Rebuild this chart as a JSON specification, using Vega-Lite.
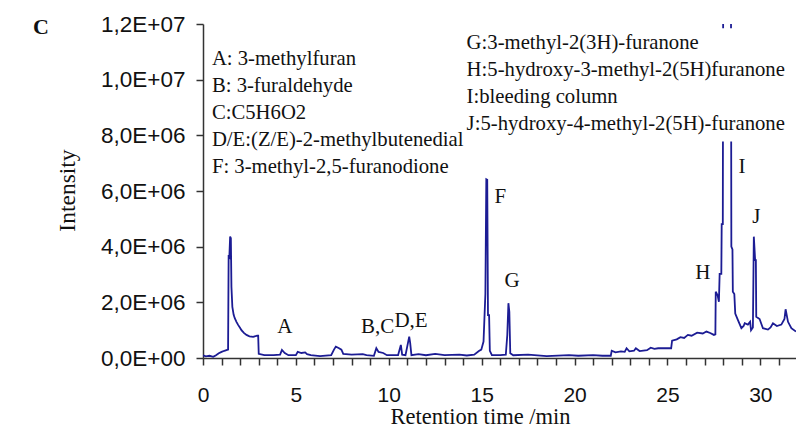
{
  "$schema": "https://vega.github.io/schema/vega-lite/v6.json",
  "width": 593,
  "height": 334,
  "autosize": {"type": "none"},
  "padding": {"left": 203, "top": 24, "right": 0, "bottom": 77},
  "background": "white",
  "config": {"view": {"stroke": null}},
  "title": {"text": "C", "anchor": "start", "frame": "group", "dx": -170, "dy": 26, "font": "Liberation Serif", "fontSize": 22, "fontWeight": "bold", "color": "#111", "offset": 0},
  "datasets": {
    "trace": [
      {"t":0.0,"v":100000},{"t":0.15,"v":60000},{"t":0.35,"v":80000},{"t":0.55,"v":40000},{"t":0.7,"v":100000},
      {"t":0.85,"v":170000},{"t":1.0,"v":220000},{"t":1.15,"v":260000},{"t":1.3,"v":290000},{"t":1.35,"v":300000},
      {"t":1.38,"v":3700000},{"t":1.42,"v":3650000},{"t":1.46,"v":4360000},{"t":1.5,"v":4300000},{"t":1.53,"v":2560000},
      {"t":1.58,"v":1840000},{"t":1.65,"v":1550000},{"t":1.71,"v":1430000},{"t":1.8,"v":1300000},{"t":1.89,"v":1190000},
      {"t":2.0,"v":1080000},{"t":2.07,"v":1000000},{"t":2.2,"v":900000},{"t":2.34,"v":830000},{"t":2.5,"v":780000},
      {"t":2.7,"v":760000},{"t":2.91,"v":800000},{"t":2.97,"v":800000},{"t":3.0,"v":150000},{"t":3.3,"v":100000},
      {"t":3.8,"v":100000},{"t":4.15,"v":120000},{"t":4.25,"v":290000},{"t":4.4,"v":180000},{"t":4.6,"v":100000},
      {"t":5.0,"v":100000},{"t":5.1,"v":220000},{"t":5.3,"v":180000},{"t":5.5,"v":200000},{"t":5.6,"v":140000},
      {"t":5.8,"v":100000},{"t":6.3,"v":70000},{"t":6.9,"v":100000},{"t":7.05,"v":300000},{"t":7.15,"v":410000},
      {"t":7.3,"v":360000},{"t":7.45,"v":300000},{"t":7.55,"v":150000},{"t":8.0,"v":120000},{"t":8.6,"v":140000},
      {"t":8.8,"v":100000},{"t":9.2,"v":80000},{"t":9.33,"v":350000},{"t":9.45,"v":220000},{"t":9.7,"v":180000},
      {"t":9.9,"v":100000},{"t":10.5,"v":100000},{"t":10.65,"v":470000},{"t":10.72,"v":120000},{"t":10.9,"v":100000},
      {"t":11.1,"v":770000},{"t":11.15,"v":550000},{"t":11.22,"v":100000},{"t":11.6,"v":140000},{"t":12.0,"v":100000},
      {"t":12.5,"v":150000},{"t":13.0,"v":100000},{"t":13.8,"v":120000},{"t":14.2,"v":90000},{"t":14.6,"v":120000},
      {"t":14.85,"v":250000},{"t":14.98,"v":300000},{"t":15.1,"v":590000},{"t":15.2,"v":2300000},{"t":15.25,"v":6420000},
      {"t":15.3,"v":6400000},{"t":15.34,"v":1540000},{"t":15.4,"v":1540000},{"t":15.44,"v":260000},{"t":15.55,"v":100000},
      {"t":16.0,"v":100000},{"t":16.3,"v":120000},{"t":16.38,"v":830000},{"t":16.44,"v":1970000},{"t":16.49,"v":1660000},
      {"t":16.54,"v":170000},{"t":16.7,"v":100000},{"t":17.5,"v":120000},{"t":18.5,"v":70000},{"t":19.7,"v":100000},
      {"t":20.2,"v":80000},{"t":21.0,"v":100000},{"t":21.5,"v":80000},{"t":21.95,"v":80000},{"t":22.0,"v":260000},
      {"t":22.2,"v":200000},{"t":22.5,"v":240000},{"t":22.7,"v":220000},{"t":22.8,"v":350000},{"t":22.95,"v":240000},
      {"t":23.2,"v":260000},{"t":23.3,"v":350000},{"t":23.5,"v":250000},{"t":23.9,"v":280000},{"t":24.1,"v":370000},
      {"t":24.3,"v":330000},{"t":24.5,"v":350000},{"t":25.2,"v":350000},{"t":25.25,"v":620000},{"t":25.5,"v":670000},
      {"t":25.7,"v":750000},{"t":25.9,"v":720000},{"t":26.1,"v":830000},{"t":26.3,"v":800000},{"t":26.6,"v":910000},
      {"t":26.9,"v":880000},{"t":27.1,"v":950000},{"t":27.3,"v":900000},{"t":27.5,"v":830000},{"t":27.58,"v":850000},
      {"t":27.6,"v":2380000},{"t":27.7,"v":2250000},{"t":27.77,"v":2020000},{"t":27.81,"v":3020000},{"t":27.9,"v":3020000},
      {"t":27.92,"v":4810000},{"t":27.98,"v":4810000},{"t":28.0,"v":13000000},{"t":28.2,"v":15000000},{"t":28.42,"v":13000000},
      {"t":28.44,"v":4000000},{"t":28.5,"v":3900000},{"t":28.52,"v":2380000},{"t":28.6,"v":2300000},{"t":28.65,"v":1600000},
      {"t":28.79,"v":1370000},{"t":28.98,"v":1070000},{"t":29.1,"v":1150000},{"t":29.16,"v":1250000},{"t":29.33,"v":1200000},
      {"t":29.45,"v":1300000},{"t":29.5,"v":1000000},{"t":29.6,"v":1100000},{"t":29.65,"v":4360000},{"t":29.72,"v":3520000},
      {"t":29.76,"v":3520000},{"t":29.78,"v":1480000},{"t":29.96,"v":1400000},{"t":30.14,"v":1070000},{"t":30.41,"v":1020000},
      {"t":30.55,"v":1100000},{"t":30.68,"v":1250000},{"t":30.89,"v":1150000},{"t":31.13,"v":1200000},{"t":31.3,"v":1400000},
      {"t":31.36,"v":1750000},{"t":31.49,"v":1300000},{"t":31.67,"v":1070000},{"t":31.92,"v":950000}
    ],
    "legend": [
      {"text":"A: 3-methylfuran","t":0.48,"v":10527000},
      {"text":"B: 3-furaldehyde","t":0.48,"v":9557000},
      {"text":"C:C5H6O2","t":0.48,"v":8587000},
      {"text":"D/E:(Z/E)-2-methylbutenedial","t":0.48,"v":7617000},
      {"text":"F: 3-methyl-2,5-furanodione","t":0.48,"v":6647000},
      {"text":"G:3-methyl-2(3H)-furanone","t":14.19,"v":11100000},
      {"text":"H:5-hydroxy-3-methyl-2(5H)furanone","t":14.19,"v":10130000},
      {"text":"I:bleeding column","t":14.19,"v":9160000},
      {"text":"J:5-hydroxy-4-methyl-2(5H)-furanone","t":14.19,"v":8190000}
    ],
    "peaks": [
      {"text":"A","t":4.4,"v":898000},
      {"text":"B,C","t":9.4,"v":898000},
      {"text":"D,E","t":11.2,"v":1114000},
      {"text":"F","t":16.01,"v":5560000},
      {"text":"G","t":16.64,"v":2540000},
      {"text":"H","t":26.91,"v":2830000},
      {"text":"I","t":29.02,"v":6660000},
      {"text":"J","t":29.78,"v":4860000}
    ],
    "mask": [{"t":14.1,"t2":31.92,"v":7780000,"v2":11850000}]
  },
  "layer": [
    {
      "data": {"name": "trace"},
      "mark": {"type": "line", "color": "#1c1c94", "strokeWidth": 1.8, "clip": true},
      "encoding": {
        "x": {"field": "t", "type": "quantitative",
          "scale": {"domain": [0, 31.92], "nice": false, "zero": false},
          "axis": {"title": "Retention time /min", "values": [0,1,2,3,4,5,6,7,8,9,10,11,12,13,14,15,16,17,18,19,20,21,22,23,24,25,26,27,28,29,30,31],
            "tickCount": 40,
            "labelExpr": "datum.value % 5 == 0 ? format(datum.value, 'd') : ''",
            "grid": false, "domainColor": "#333", "domainWidth": 1.5, "tickColor": "#333", "tickWidth": 1.5, "tickSize": 7,
            "labelFont": "Liberation Sans", "labelFontSize": 21, "labelColor": "#111", "labelBaseline": "alphabetic", "labelPadding": 36,
            "labelFlush": false, "labelOverlap": false, "labelSeparation": 0, "labelBound": false,
            "titleFont": "Liberation Serif", "titleFontSize": 22.5, "titleFontWeight": "normal", "titleColor": "#111",
            "titleX": 277, "titleY": 65, "titleBaseline": "alphabetic", "titleAlign": "center"}},
        "y": {"field": "v", "type": "quantitative",
          "scale": {"domain": [0, 12000000], "nice": false},
          "axis": {"title": "Intensity", "values": [0,2000000,4000000,6000000,8000000,10000000,12000000],
            "tickCount": 10,
            "labelExpr": "replace(replace(format(datum.value, '.1e'), '.', ','), 'e+', 'E+0')",
            "grid": false, "domainColor": "#333", "domainWidth": 1.5, "tickColor": "#333", "tickWidth": 1.5, "tickSize": 7,
            "labelFont": "Liberation Sans", "labelFontSize": 22.5, "labelColor": "#111", "labelPadding": 11, "labelFlush": false, "labelOverlap": false,
            "titleFont": "Liberation Serif", "titleFontSize": 23.5, "titleFontWeight": "normal", "titleColor": "#111",
            "titleX": -136, "titleY": 166, "titleAngle": -90, "titleAlign": "center", "titleBaseline": "middle"}}
      }
    },
    {
      "mark": {"type": "rule", "color": "#333", "strokeWidth": 1.5},
      "encoding": {"y": {"datum": 12000000}}
    },
    {
      "data": {"name": "mask"},
      "mark": {"type": "rect", "color": "white"},
      "encoding": {
        "x": {"field": "t", "type": "quantitative"},
        "x2": {"field": "t2"},
        "y": {"field": "v", "type": "quantitative"},
        "y2": {"field": "v2"}
      }
    },
    {
      "data": {"name": "legend"},
      "mark": {"type": "text", "align": "left", "baseline": "alphabetic", "font": "Liberation Serif", "fontSize": 20.7, "color": "#111"},
      "encoding": {
        "x": {"field": "t", "type": "quantitative"},
        "y": {"field": "v", "type": "quantitative"},
        "text": {"field": "text"}
      }
    },
    {
      "data": {"name": "peaks"},
      "mark": {"type": "text", "align": "center", "baseline": "alphabetic", "font": "Liberation Serif", "fontSize": 21, "color": "#111"},
      "encoding": {
        "x": {"field": "t", "type": "quantitative"},
        "y": {"field": "v", "type": "quantitative"},
        "text": {"field": "text"}
      }
    }
  ]
}
